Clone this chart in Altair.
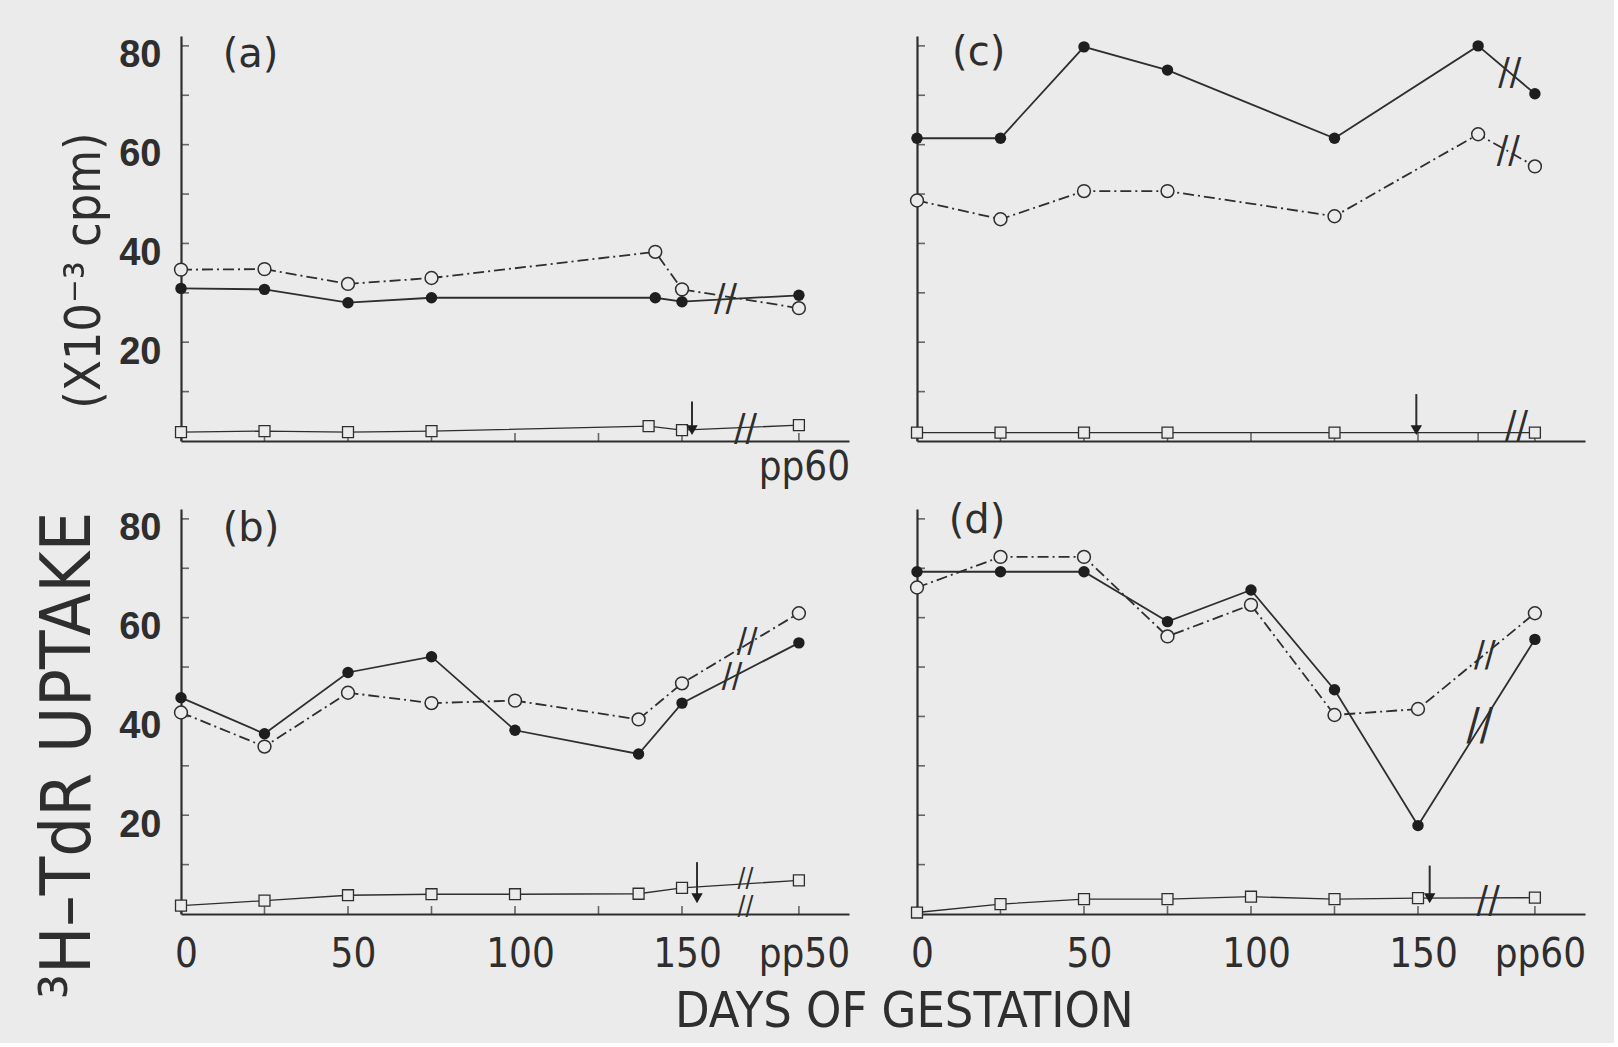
import altair as alt
import pandas as pd

# ---------------- data ----------------
# panel (a)
a_days = [0, 25, 50, 75, 142, 150, 185]
a_filled = [30.9, 30.7, 28.0, 29.0, 29.0, 28.2, 29.5]
a_open = [34.7, 34.8, 31.8, 33.0, 38.3, 30.7, 26.9]
a_sq_days = [0, 25, 50, 75, 140, 150, 185]
a_sq = [1.8, 2.0, 1.8, 2.0, 3.0, 2.2, 3.2]

# panel (b)
b_days = [0, 25, 50, 75, 100, 137, 150, 185]
b_filled = [43.8, 36.5, 48.9, 52.1, 37.2, 32.4, 42.7, 54.9]
b_open = [40.8, 33.9, 44.8, 42.7, 43.2, 39.4, 46.7, 60.9]
b_sq_days = [0, 25, 50, 75, 100, 137, 150, 185]
b_sq = [1.7, 2.7, 3.8, 4.0, 4.0, 4.1, 5.3, 6.8]

# panel (c)
c_days = [0, 25, 50, 75, 125, 168, 185]
c_filled = [61.3, 61.3, 79.8, 75.1, 61.3, 80.0, 70.3]
c_open = [48.7, 44.9, 50.6, 50.6, 45.5, 62.1, 55.6]
c_sq_days = [0, 25, 50, 75, 125, 185]
c_sq = [1.7, 1.7, 1.7, 1.7, 1.7, 1.7]

# panel (d)
d_days = [0, 25, 50, 75, 100, 125, 150, 185]
d_filled = [69.3, 69.3, 69.3, 59.2, 65.6, 45.4, 17.9, 55.6]
d_open = [66.1, 72.3, 72.3, 56.2, 62.6, 40.3, 41.5, 60.9]
d_sq_days = [0, 25, 50, 75, 100, 125, 150, 185]
d_sq = [0.3, 2.0, 3.0, 3.0, 3.5, 3.0, 3.2, 3.3]

# axis ticks / labels
x_ticks_abd = [0, 25, 50, 75, 100, 125, 150, 185]
x_ticks_c = [0, 25, 50, 75, 100, 125, 150, 168, 185]
y_ticks = [10, 20, 30, 40, 50, 60, 70, 80]
y_labels = [20, 40, 60, 80]
x_labels = [0, 50, 100, 150, 185]
pp_day = 185

# axis-break marks (day, value)
a_brk_x, a_brk_y = [163, 169], [28.8, 2.5]
b_brk_x, b_brk_y = [169.5, 165, 169, 169], [55.0, 47.9, 7.0, 1.4]
c_brk_x, c_brk_y = [177.5, 177, 179.5], [74.5, 58.7, 3.0]
d_brk_x, d_brk_y = [170, 168.5, 171], [52.4, 37.8, 2.7]

# delivery arrows (day, top value, bottom value)
a_arrow = [153, 8.0, 2.2]
b_arrow = [154.5, 10.5, 3.2]
c_arrow = [149.5, 9.5, 2.2]
d_arrow = [153.5, 9.8, 3.2]

# panel letters (day, value)
a_tag = ["(a)", 12.5, 78.2]
b_tag = ["(b)", 12.5, 78.0]
c_tag = ["(c)", 10.5, 78.6]
d_tag = ["(d)", 9.5, 79.5]

# ---------------- styling ----------------
INK = "#2e2e2e"
BG = "#ebebeb"
NARROW = "Liberation Sans Narrow, DejaVu Sans Condensed, Liberation Sans, sans-serif"
BOLDF = "Liberation Sans, DejaVu Sans, sans-serif"
PW, PH = 668, 405
XDOM, YDOM = [0, 200], [0, 82]


def make_panel(days, filled, opn, sq_days, sq, xticks, brk_x, brk_y, arrow, tag,
               x_axis, y_axis, brk_sizes):
    xs = alt.Scale(domain=XDOM, nice=False, zero=False)
    ys = alt.Scale(domain=YDOM, nice=False, zero=False)
    X = alt.X("day:Q", scale=xs, axis=x_axis)
    Y = alt.Y("value:Q", scale=ys, axis=y_axis)

    df_f = pd.DataFrame({"day": days, "value": filled})
    df_o = pd.DataFrame({"day": days, "value": opn})
    df_s = pd.DataFrame({"day": sq_days, "value": sq})
    df_xt = pd.DataFrame({"day": xticks, "value": [0] * len(xticks)})
    df_yt = pd.DataFrame({"day": [0] * len(y_ticks), "value": y_ticks})
    df_b = pd.DataFrame({"day": brk_x, "value": brk_y, "fs": brk_sizes})
    df_ar = pd.DataFrame({"day": [arrow[0]], "value": [arrow[1]], "value2": [arrow[2]]})
    df_ah = pd.DataFrame({"day": [arrow[0]], "value": [arrow[2]]})
    df_t = pd.DataFrame({"day": [tag[1]], "value": [tag[2]], "t": [tag[0]]})

    layers = [
        alt.Chart(df_s).mark_line(color=INK, strokeWidth=1.3).encode(x=X, y=Y),
        alt.Chart(df_o).mark_line(color=INK, strokeWidth=1.8, strokeDash=[11, 4, 2, 4]).encode(x=X, y=Y),
        alt.Chart(df_f).mark_line(color=INK, strokeWidth=1.8).encode(x=X, y=Y),
        alt.Chart(df_xt).mark_tick(orient="vertical", size=8, thickness=1.6, yOffset=-4, color=INK).encode(x=X, y=Y),
        alt.Chart(df_yt).mark_tick(orient="horizontal", size=8, thickness=1.6, xOffset=4, color=INK).encode(x=X, y=Y),
        alt.Chart(df_s).mark_point(shape="square", filled=True, fill=BG, stroke=INK,
                                   strokeWidth=1.3, size=120, opacity=1).encode(x=X, y=Y),
        alt.Chart(df_o).mark_point(shape="circle", filled=True, fill=BG, stroke=INK,
                                   strokeWidth=1.5, size=165, opacity=1).encode(x=X, y=Y),
        alt.Chart(df_f).mark_point(shape="circle", filled=True, color="#1e1e1e",
                                   size=130, opacity=1).encode(x=X, y=Y),
        alt.Chart(df_b).mark_text(text="//", font=NARROW, color=INK,
                                  align="center", baseline="middle").encode(
            x=X, y=Y, size=alt.Size("fs:Q", scale=None, legend=None)),
        alt.Chart(df_ar).mark_rule(color=INK, strokeWidth=2).encode(x=X, y=Y, y2="value2:Q"),
        alt.Chart(df_ah).mark_point(shape="triangle-down", filled=True, color="#1e1e1e",
                                    size=130, opacity=1).encode(x=X, y=Y),
        alt.Chart(df_t).mark_text(font="DejaVu Sans", fontSize=40, color=INK, align="left",
                                  baseline="middle").encode(x=X, y=Y, text="t:N"),
    ]
    return alt.layer(*layers).properties(width=PW, height=PH)


def xaxis(values=None, expr=None, labels=True, pad=6):
    kw = dict(ticks=False, grid=False, domainColor=INK, domainWidth=2.2, title=None)
    if labels:
        kw.update(values=values, labelExpr=expr, labelFont=NARROW, labelFontSize=40,
                  labelColor=INK, labelPadding=pad, labelOffset=5, labelFlush=False,
                  labelOverlap=False)
    else:
        kw.update(labels=False)
    return alt.Axis(**kw)


def yaxis(title=None, tx=0, ty=0, tsize=50, labels=True):
    kw = dict(ticks=False, grid=False, domainColor=INK, domainWidth=2.2)
    if labels:
        kw.update(values=y_labels, labelFont=BOLDF, labelFontWeight="bold", labelFontSize=38,
                  labelColor=INK, labelPadding=20, labelOffset=10)
    else:
        kw.update(labels=False)
    if title:
        kw.update(title=title, titleFont=NARROW, titleFontSize=tsize, titleFontWeight="normal",
                  titleColor=INK, titleAngle=270, titleX=tx, titleY=ty, titleAlign="center",
                  titleBaseline="middle")
    else:
        kw.update(title=None)
    return alt.Axis(**kw)


pa = make_panel(a_days, a_filled, a_open, a_sq_days, a_sq, x_ticks_abd, a_brk_x, a_brk_y,
                a_arrow, a_tag,
                xaxis([pp_day], "'pp60'", pad=6),
                yaxis("(X10\u207b\u00b3  cpm)", tx=-97, ty=234, tsize=50),
                [38, 38])
pc = make_panel(c_days, c_filled, c_open, c_sq_days, c_sq, x_ticks_c, c_brk_x, c_brk_y,
                c_arrow, c_tag,
                xaxis(labels=False),
                yaxis(labels=False),
                [38, 38, 38])
pb = make_panel(b_days, b_filled, b_open, b_sq_days, b_sq, x_ticks_abd, b_brk_x, b_brk_y,
                b_arrow, b_tag,
                xaxis(x_labels, "datum.value == 185 ? 'pp50' : datum.label", pad=20),
                yaxis("\u00b3H\u2013TdR UPTAKE", tx=-113, ty=246, tsize=70),
                [34, 34, 26, 26])
pd_ = make_panel(d_days, d_filled, d_open, d_sq_days, d_sq, x_ticks_abd, d_brk_x, d_brk_y,
                 d_arrow, d_tag,
                 xaxis(x_labels, "datum.value == 185 ? 'pp60' : datum.label", pad=20),
                 yaxis(labels=False),
                 [36, 44, 38])

chart = alt.concat(pa, pc, pb, pd_, columns=2, spacing={"row": 14, "column": 57}).properties(
    background=BG,
    padding={"left": 32, "top": 32, "right": 28, "bottom": 6},
    title=alt.TitleParams("DAYS OF GESTATION", orient="bottom", anchor="middle", font=NARROW,
                          fontSize=50, fontWeight="normal", color=INK, offset=-12, dx=95),
).configure_view(strokeWidth=0)

chart.save("out.html", embed_options={"renderer": "svg", "actions": False})
